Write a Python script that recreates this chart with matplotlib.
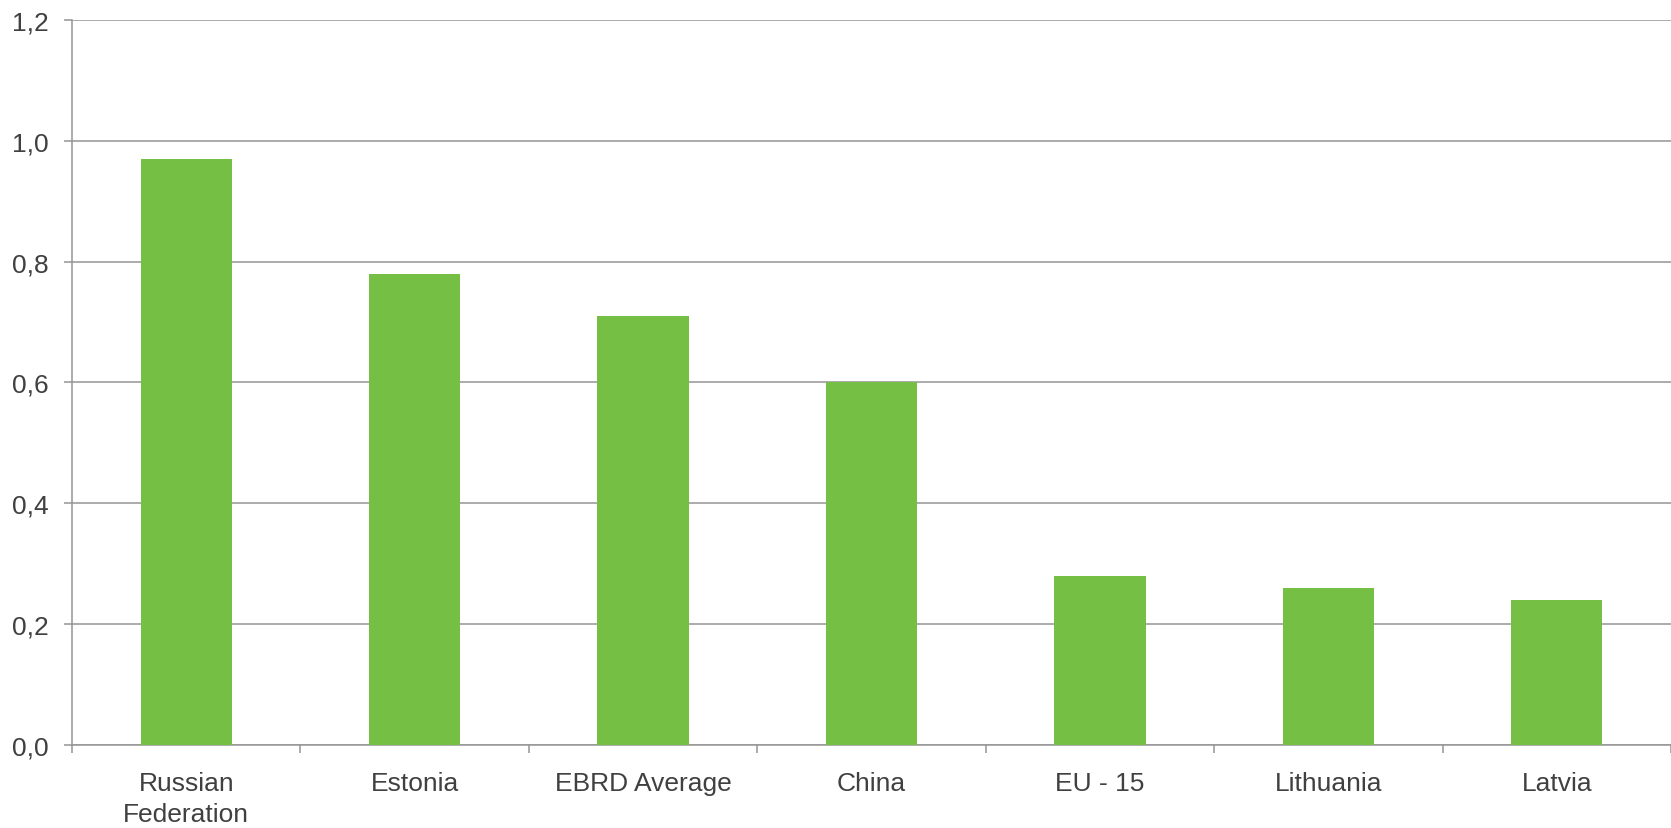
import matplotlib.pyplot as plt
from matplotlib.ticker import FuncFormatter, MultipleLocator, FixedLocator
import numpy as np

categories = ['Russian\nFederation', 'Estonia', 'EBRD Average', 'China',
              'EU - 15', 'Lithuania', 'Latvia']
values = [0.97, 0.78, 0.71, 0.60, 0.28, 0.26, 0.24]

plt.rcParams['font.family'] = ['Liberation Sans', 'DejaVu Sans']

fig = plt.figure(figsize=(16.71, 8.29), dpi=100)
ax = fig.add_axes([0.0431, 0.1001, 1 - 0.0431, 0.9747 - 0.1001])

x = np.arange(len(categories))
ax.bar(x, values, width=0.40, color='#75BF44', zorder=3)

grid_col = '#959595'
ax.set_xlim(-0.5, len(categories) - 0.5)
ax.set_ylim(0, 1.2)
ax.yaxis.set_major_locator(MultipleLocator(0.2))
ax.yaxis.set_major_formatter(FuncFormatter(lambda v, p: f'{v:.1f}'.replace('.', ',')))
ax.grid(axis='y', color=grid_col, linewidth=1.1, zorder=1)

ax.set_xticks(x)
ax.set_xticklabels(categories, linespacing=1.35)
ax.xaxis.set_minor_locator(FixedLocator(np.arange(-0.5, len(categories), 1.0)))
ax.tick_params(axis='x', which='major', length=0, pad=19)
ax.tick_params(axis='x', which='minor', length=6, width=1.1, color=grid_col)
ax.tick_params(axis='y', length=6, width=1.1, color=grid_col, pad=11)
ax.tick_params(labelsize=19, labelcolor='#404040')

for s in ['top', 'right']:
    ax.spines[s].set_visible(False)
for s in ['left', 'bottom']:
    ax.spines[s].set_color(grid_col)
    ax.spines[s].set_linewidth(1.1)

fig.savefig('out.png', dpi=100)
